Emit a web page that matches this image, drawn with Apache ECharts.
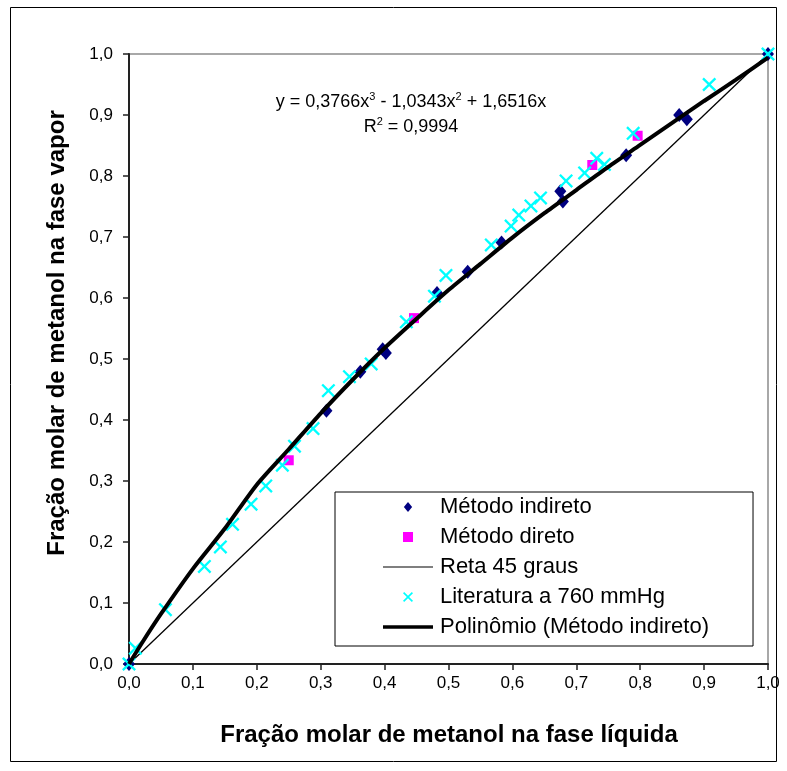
<!DOCTYPE html>
<html><head><meta charset="utf-8">
<script src="https://cdn.jsdelivr.net/npm/echarts@6/dist/echarts.min.js"></script>
<style>html,body{margin:0;padding:0;background:#fff}#c{width:787px;height:771px}</style>
</head><body><div id="c"></div>
<script>
const FONT = 'Liberation Sans, Arial, sans-serif';
const tickLabels = ['0,0','0,1','0,2','0,3','0,4','0,5','0,6','0,7','0,8','0,9','1,0'];
const metodoIndireto = [[0,0],[0.309,0.415],[0.362,0.479],[0.397,0.516],[0.402,0.510],[0.482,0.608],[0.530,0.643],[0.583,0.691],[0.675,0.775],[0.679,0.758],[0.778,0.834],[0.861,0.900],[0.873,0.893],[1,1]];
const metodoDireto = [[0.250,0.334],[0.446,0.567],[0.725,0.818],[0.796,0.866]];
const reta45 = [[0,0],[1,1]];
const literatura = [[0,0],[0.010,0.026],[0.057,0.089],[0.118,0.160],[0.143,0.192],[0.162,0.229],[0.191,0.262],[0.214,0.292],[0.240,0.326],[0.259,0.357],[0.288,0.386],[0.312,0.448],[0.345,0.471],[0.379,0.492],[0.434,0.561],[0.478,0.603],[0.496,0.637],[0.567,0.687],[0.598,0.718],[0.610,0.736],[0.629,0.751],[0.644,0.764],[0.684,0.792],[0.713,0.805],[0.732,0.829],[0.744,0.819],[0.789,0.870],[0.908,0.950],[1,1]];
const trendX = [0,0.02,0.05,0.10,0.15,0.20,0.25,0.30,0.35,0.40,0.45,0.50,0.55,0.60,0.65,0.70,0.75,0.80,0.85,0.90,0.95,1.00];
const trendY = [0,0.034,0.082,0.156,0.222,0.294,0.352,0.411,0.466,0.518,0.566,0.613,0.656,0.699,0.739,0.777,0.815,0.851,0.887,0.923,0.958,0.994];
const trend = trendX.map((x,i)=>[x,trendY[i]]);
const crossPath = 'path://M0,1.4L1.4,0L6,4.6L10.6,0L12,1.4L7.4,6L12,10.6L10.6,12L6,7.4L1.4,12L0,10.6L4.6,6Z';
const diamondPath = 'path://M5,0L10,6L5,12L0,6Z';
const squarePath = 'path://M0,0L10,0L10,10L0,10Z';
const thinLine = 'path://M0,0M50,10M0,4.4L50,4.4L50,5.6L0,5.6Z';
const thickLine = 'path://M0,0M50,10M0,3.2L50,3.2L50,6.8L0,6.8Z';

const chart = echarts.init(document.getElementById('c'), null, {renderer:'canvas'});
const fmt = v => tickLabels[Math.round(v*10)];
const eqRich = {
  m:{fontSize:18, fontFamily:FONT, lineHeight:20, verticalAlign:'bottom', color:'#000'},
  s:{fontSize:11, fontFamily:FONT, lineHeight:20, verticalAlign:'top', color:'#000'}
};
chart.setOption({
  animation:false,
  backgroundColor:'#fff',
  textStyle:{fontFamily:FONT},
  grid:{left:129, top:54, width:639, height:610, show:true, borderColor:'#8c8c8c', borderWidth:1.5, backgroundColor:'#fff'},
  xAxis:{type:'value', min:0, max:1, interval:0.1,
    axisLine:{show:true, lineStyle:{color:'#222', width:2}},
    axisTick:{show:true, length:6, lineStyle:{color:'#222', width:1.5}},
    axisLabel:{formatter:fmt, fontSize:17, color:'#000', margin:11, fontFamily:FONT},
    splitLine:{show:false}},
  yAxis:{type:'value', min:0, max:1, interval:0.1,
    axisLine:{show:true, lineStyle:{color:'#222', width:2}},
    axisTick:{show:true, length:6, lineStyle:{color:'#222', width:1.5}},
    axisLabel:{formatter:fmt, fontSize:17, color:'#000', margin:16, fontFamily:FONT},
    splitLine:{show:false}},
  legend:{
    orient:'vertical', left:335, top:492, itemGap:8, padding:[4,44,8,48],
    borderColor:'#000', borderWidth:1, backgroundColor:'#fff',
    itemWidth:50, itemHeight:10, selectedMode:false, symbolKeepAspect:true,
    textStyle:{fontSize:22, color:'#000', fontFamily:FONT, padding:[0,0,0,2]},
    data:[
      {name:'Método indireto', icon:diamondPath},
      {name:'Método direto', icon:squarePath},
      {name:'Reta 45 graus', icon:thinLine},
      {name:'Literatura a 760 mmHg', icon:crossPath},
      {name:'Polinômio (Método indireto)', icon:thickLine}
    ]
  },
  graphic:[
    {type:'rect', shape:{x:10.5, y:7.5, width:766, height:754}, style:{fill:'none', stroke:'#000', lineWidth:1}, silent:true, z:-10},
    {type:'text', x:411, y:111, z:100, style:{
      text:'{m|y = 0,3766x}{s|3}{m| - 1,0343x}{s|2}{m| + 1,6516x}',
      align:'center', verticalAlign:'bottom', fill:'#000', font:'18px '+FONT, rich:eqRich
    }},
    {type:'text', x:411, y:136, z:100, style:{
      text:'{m|R}{s|2}{m| = 0,9994}',
      align:'center', verticalAlign:'bottom', fill:'#000', font:'18px '+FONT, rich:eqRich
    }},
    {type:'text', x:449, y:735, style:{text:'Fração molar de metanol na fase líquida', align:'center', verticalAlign:'middle', font:'bold 24px '+FONT, fill:'#000'}},
    {type:'text', x:57, y:333, rotation:Math.PI/2, style:{text:'Fração molar de metanol na fase vapor', align:'center', verticalAlign:'middle', font:'bold 24px '+FONT, fill:'#000'}}
  ],
  series:[
    {name:'Método indireto', type:'scatter', data:metodoIndireto, symbol:'diamond', symbolSize:[12,14], itemStyle:{color:'#000080', opacity:1}, z:3},
    {name:'Método direto', type:'scatter', data:metodoDireto, symbol:'rect', symbolSize:10, itemStyle:{color:'#ff00ff', opacity:1}, z:3},
    {name:'Reta 45 graus', type:'line', data:reta45, symbol:'none', lineStyle:{color:'#000', width:1.3}, itemStyle:{color:'#000'}, z:3},
    {name:'Literatura a 760 mmHg', type:'scatter', data:literatura, symbol:crossPath, symbolSize:14, itemStyle:{color:'#00ffff', opacity:1}, z:4},
    {name:'Polinômio (Método indireto)', type:'line', data:trend, symbol:'none', smooth:0.25, lineStyle:{color:'#000', width:4}, itemStyle:{color:'#000'}, z:5}
  ]
});
</script></body></html>
